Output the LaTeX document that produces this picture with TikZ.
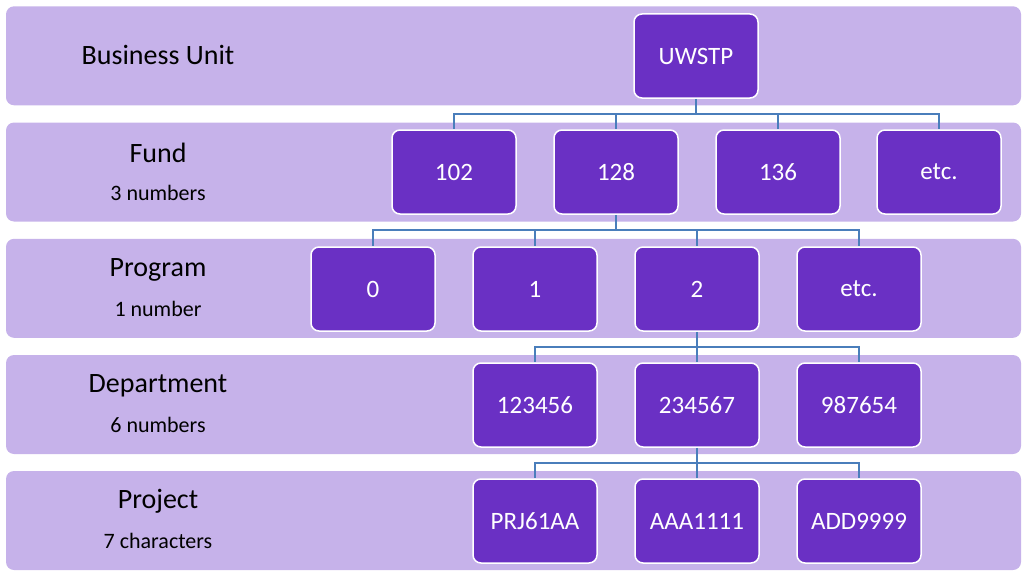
\documentclass[tikz,border=0pt]{standalone}
\usepackage{fontspec}
\setmainfont{Carlito}
\usepackage{tikz}
\usetikzlibrary{positioning}
\usepackage{xcolor}

\definecolor{bandcol}{RGB}{198,178,234}
\definecolor{boxcol}{RGB}{106,48,196}
\definecolor{linkcol}{RGB}{74,126,187}

\tikzset{
    band/.style={rectangle,rounded corners=8pt,fill=bandcol,minimum width=1015pt,minimum height=99pt,inner sep=0pt},
    level/.style={font=\fontsize{28}{32}\selectfont},
    hint/.style={font=\fontsize{22}{26}\selectfont},
    item/.style={rectangle,rounded corners=8pt,fill=boxcol,draw=white,line width=1.5pt,minimum width=124pt,minimum height=84pt,inner sep=0pt,text=white,font=\fontsize{25}{30}\selectfont},
    link/.style={draw=linkcol,line width=1.8pt}
}

\begin{document}
\begin{tikzpicture}[x=1pt,y=-1pt]
        \useasboundingbox (0,0) rectangle (1028,578);

        % rows
        \node [band] (row1) at (513.5, 55.8) {};
        \node [band] (row2) at (513.5, 172) {};
        \node [band] (row3) at (513.5, 288.3) {};
        \node [band] (row4) at (513.5, 404.5) {};
        \node [band] (row5) at (513.5, 520.5) {};

        \node [level] (lbu) at (158, 55) {Business Unit};
        \node [level] (lfund) at (158, 153) {Fund};
        \node [hint] (hfund) at (158, 193) {3 numbers};
        \node [level] (lprog) at (158, 270) {Program};
        \node [hint] (hprog) at (158, 309) {1 number};
        \node [level] (ldept) at (158, 386) {Department};
        \node [hint] (hdept) at (158, 425) {6 numbers};
        \node [level] (lproj) at (158, 501) {Project};
        \node [hint] (hproj) at (158, 541) {7 characters};

        % tree
        \node [item] (uwstp) at (696, 56) {UWSTP};

        \node [item] (f102) at (454, 172) {102};
        \node [item] (f128) at (616, 172) {128};
        \node [item] (f136) at (778, 172) {136};
        \node [item] (fetc) at (939, 172) {etc.};

        \node [item] (p0) at (373, 289) {0};
        \node [item] (p1) at (535, 289) {1};
        \node [item] (p2) at (697, 289) {2};
        \node [item] (petc) at (859, 289) {etc.};

        \node [item] (d1) at (535, 405) {123456};
        \node [item] (d2) at (697, 405) {234567};
        \node [item] (d3) at (859, 405) {987654};

        \node [item] (j1) at (535, 521) {PRJ61AA};
        \node [item] (j2) at (697, 521) {AAA1111};
        \node [item] (j3) at (859, 521) {ADD9999};

        \coordinate (s1) at (696, 114);
        \coordinate (s2) at (616, 230);
        \coordinate (s3) at (697, 347);
        \coordinate (s4) at (697, 463);

        \draw[link] (uwstp.south) -- (s1);
        \draw[link] (s1) -| (f102.north);
        \draw[link] (s1) -| (f128.north);
        \draw[link] (s1) -| (f136.north);
        \draw[link] (s1) -| (fetc.north);

        \draw[link] (f128.south) -- (s2);
        \draw[link] (s2) -| (p0.north);
        \draw[link] (s2) -| (p1.north);
        \draw[link] (s2) -| (p2.north);
        \draw[link] (s2) -| (petc.north);

        \draw[link] (p2.south) -- (s3);
        \draw[link] (s3) -| (d1.north);
        \draw[link] (s3) -| (d2.north);
        \draw[link] (s3) -| (d3.north);

        \draw[link] (d2.south) -- (s4);
        \draw[link] (s4) -| (j1.north);
        \draw[link] (s4) -| (j2.north);
        \draw[link] (s4) -| (j3.north);
\end{tikzpicture}
\end{document}
